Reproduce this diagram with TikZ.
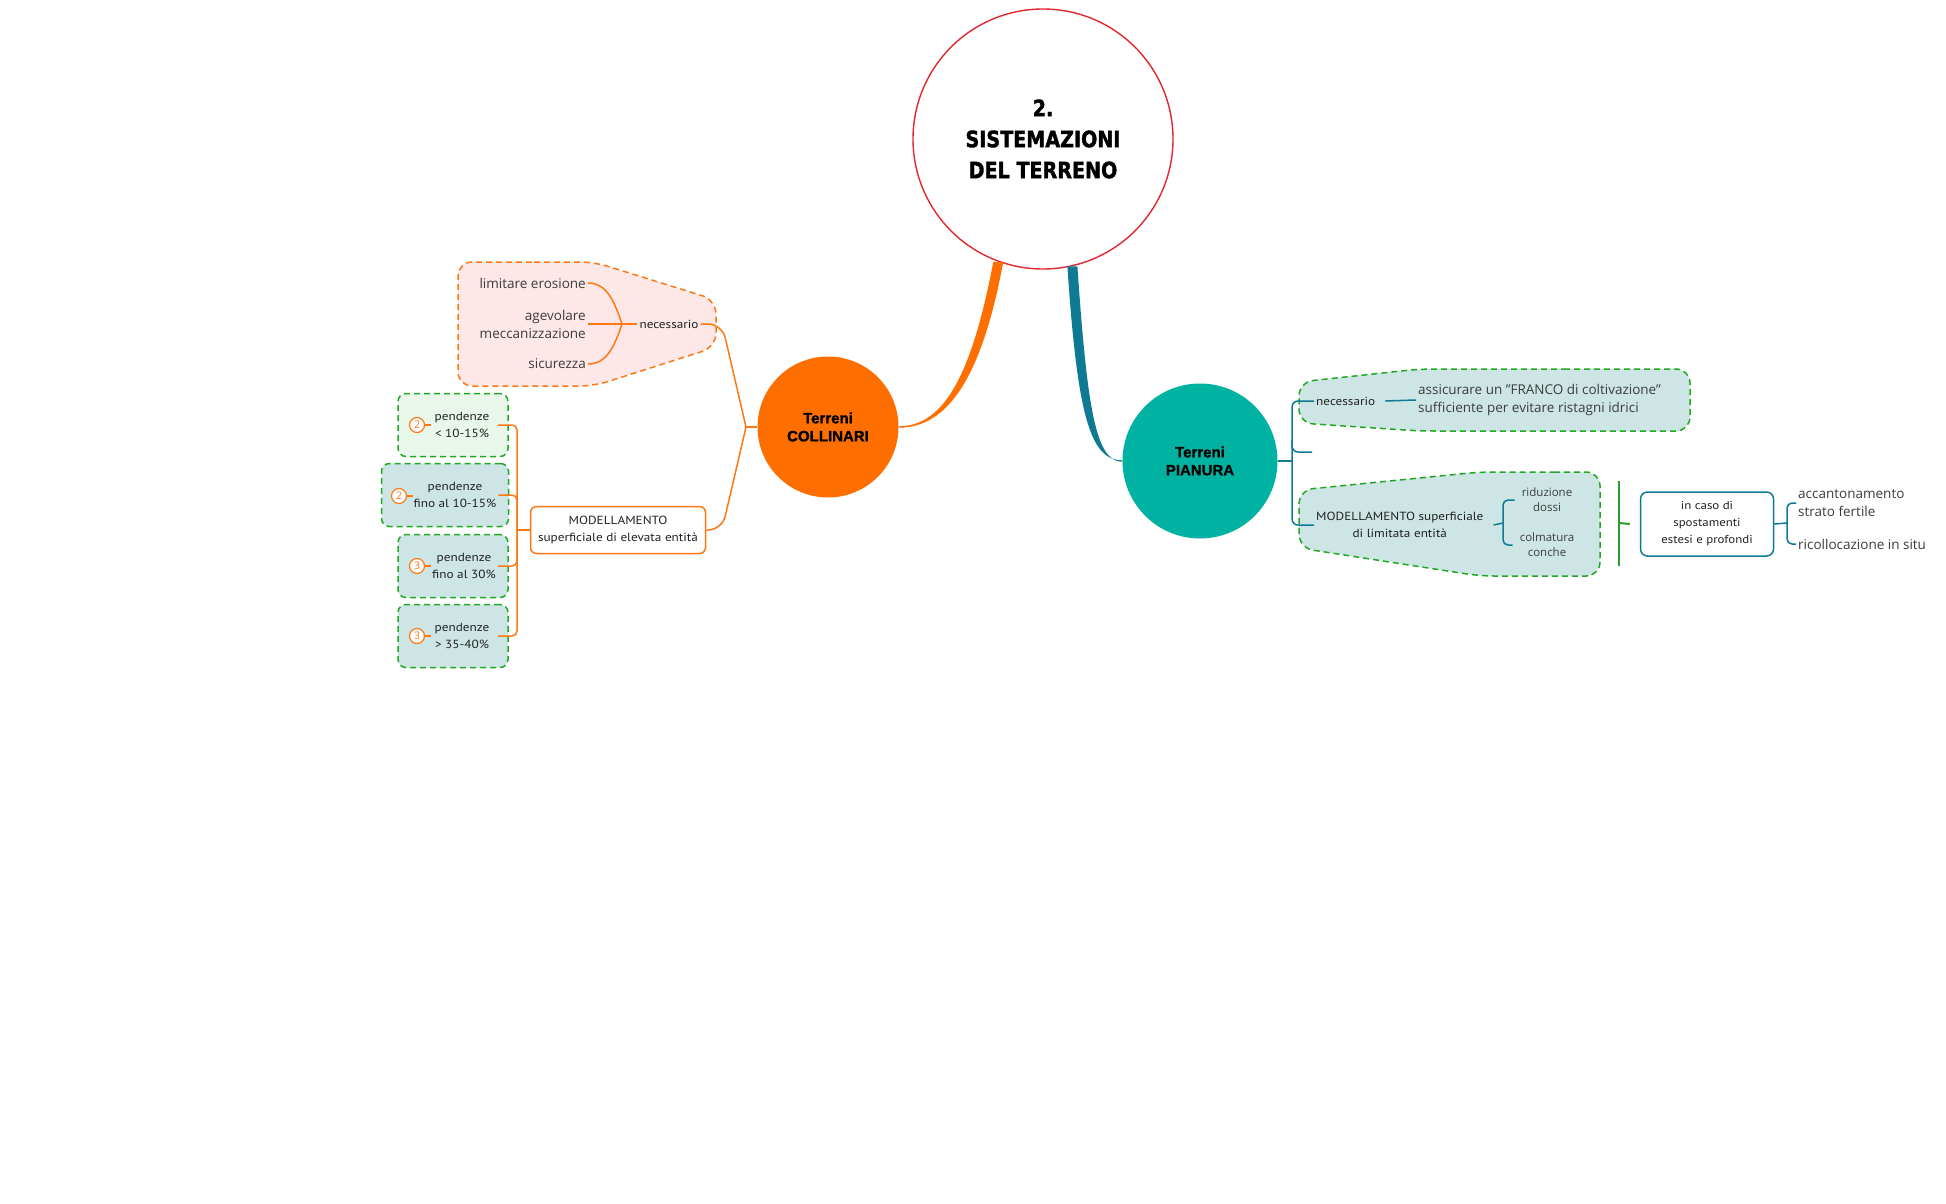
\documentclass[tikz,border=0pt]{standalone}
\usepackage{fontspec}
\setmainfont{Open Sans}
\newfontfamily\handfont{PT Sans}[FakeStretch=1.12]
\newfontfamily\titlefont{DejaVu Sans}[FakeStretch=0.85,FakeBold=1.6]
\newfontfamily\topicfont{Liberation Sans}[FakeBold=1.2]
\usepackage{xcolor}
\usetikzlibrary{positioning}

\definecolor{titlered}{HTML}{E2272E}
\definecolor{collorange}{HTML}{FF6F00}
\definecolor{lineorange}{HTML}{FF7814}
\definecolor{piantea}{HTML}{00B2A2}
\definecolor{lineteal}{HTML}{0E7A94}
\definecolor{dashgreen}{HTML}{22A822}
\definecolor{rulegreen}{HTML}{2E9B2E}
\definecolor{pinkfill}{HTML}{FDE7E7}
\definecolor{mintfill}{HTML}{E9F6EA}
\definecolor{tealfill}{HTML}{CDE6E5}
\definecolor{textgray}{HTML}{3C3C3C}
\definecolor{handink}{HTML}{222222}

\begin{document}
\begin{tikzpicture}[x=1pt,y=-1pt,
  main node/.style={circle,draw=titlered,line width=1.4pt,fill=white,minimum size=260pt,inner sep=0pt,align=center,font=\titlefont\bfseries\fontsize{22.5}{31}\selectfont},
  topic node/.style={circle,inner sep=0pt,align=center,font=\topicfont\bfseries\fontsize{15}{18}\selectfont},
  hand node/.style={align=center,inner sep=2pt,text=handink,font=\handfont\fontsize{11.8}{17}\selectfont},
  plain node/.style={inner sep=2pt,text=textgray,font=\fontsize{13.5}{18}\selectfont},
  small node/.style={plain node,align=center,font=\fontsize{11.5}{15}\selectfont},
  slope box/.style={draw=dashgreen,line width=1.5pt,dash pattern=on 6pt off 4pt,rounded corners=8pt,minimum height=63pt},
  num node/.style={circle,draw=lineorange,fill=white,text=lineorange,line width=1.2pt,inner sep=0pt,minimum size=15pt,font=\fontsize{10.5}{10.5}\selectfont},
  orange line/.style={draw=lineorange,line width=1.5pt},
  teal line/.style={draw=lineteal,line width=1.5pt},
  green line/.style={draw=rulegreen,line width=2pt},
  dashed area/.style={line width=1.5pt,dash pattern=on 6pt off 4pt,rounded corners=14pt}]

  \useasboundingbox[fill=white] (0,0) rectangle (1946,1204);

  % dashed areas
  \path[dashed area,draw=lineorange,fill=pinkfill] (520,262) -- (594,262) -- (716,300) -- (716,347) -- (594,386) -- (458,386) -- (458,262) -- cycle;
  \path[dashed area,draw=dashgreen,fill=tealfill] (1550,369) -- (1690,369) -- (1690,431) -- (1420,431) -- (1299,423) -- (1299,382) -- (1420,369) -- cycle;
  \path[dashed area,draw=dashgreen,fill=tealfill] (1540,472) -- (1600,472) -- (1600,576) -- (1480,576) -- (1299,548) -- (1299,490) -- (1480,472) -- cycle;

  % main topics
  \node[main node] (main) at (1043,139) {2.\\SISTEMAZIONI\\DEL TERRENO};
  \node[topic node,fill=collorange,minimum size=141pt] (coll) at (828,427) {Terreni\\COLLINARI};
  \node[topic node,fill=piantea,minimum size=155pt] (pian) at (1200,461) {Terreni\\PIANURA};

  \fill[collorange] ([xshift=-5pt]main.250) .. controls +(-22,116) and +(44,0) .. ([yshift=0.7pt]coll.east)
    -- ([yshift=-0.7pt]coll.east) .. controls +(48,0) and +(-22,118) .. ([xshift=5pt]main.250) -- cycle;
  \fill[lineteal] ([xshift=-5pt]main.283) .. controls +(10,150) and +(-32,0) .. ([yshift=0.7pt]pian.west)
    -- ([yshift=-0.7pt]pian.west) .. controls +(-26,0) and +(10,146) .. ([xshift=5pt]main.283) -- cycle;

  % Terreni collinari
  \node[plain node,anchor=east] (eros) at (588,283) {limitare erosione};
  \node[plain node,anchor=east,align=right] (agev) at (588,324) {agevolare\\meccanizzazione};
  \node[plain node,anchor=east] (sicu) at (588,364) {sicurezza};
  \node[hand node] (necC) at (669,324) {necessario};
  \coordinate (jN) at (622,324);
  \coordinate (jC) at (746,427);

  \node[hand node,draw=lineorange,line width=1.5pt,rounded corners=6pt,fill=white,minimum width=175pt,minimum height=47pt] (modC) at (618,530) {MODELLAMENTO\\superficiale di elevata entità};

  \node[slope box,fill=mintfill,minimum width=110pt] (sl1) at (453,425) {};
  \node[slope box,fill=tealfill,minimum width=127pt] (sl2) at (445,495) {};
  \node[slope box,fill=tealfill,minimum width=110pt] (sl3) at (453,566) {};
  \node[slope box,fill=tealfill,minimum width=110pt] (sl4) at (453,636) {};
  \node[hand node] (pe1) at (462,425) {pendenze\\< 10-15\%};
  \node[hand node] (pe2) at (455,495) {pendenze\\fino al 10-15\%};
  \node[hand node] (pe3) at (464,566) {pendenze\\fino al 30\%};
  \node[hand node] (pe4) at (462,636) {pendenze\\> 35-40\%};
  \node[num node] (n1) at (417,425) {2};
  \node[num node] (n2) at (399,496) {2};
  \node[num node] (n3) at (417,566) {3};
  \node[num node] (n4) at (417,636) {3};
  \coordinate (jS) at (517,530);

  \foreach \n in {n1,n2,n3,n4}
    \draw[orange line] (\n.east) -- ++(6,0);
  \foreach \s in {sl1,sl2,sl3,sl4}
    \draw[orange line,rounded corners=5pt] ([xshift=-11pt]\s.east) -| (jS);
  \draw[orange line] (jS) -- (modC.west);

  \draw[orange line] (coll.west) -- (jC);
  \draw[orange line,rounded corners=14pt] (jC) -- (722,324) -- (necC.east);
  \draw[orange line,rounded corners=14pt] (jC) -- (722,530) -- (modC.east);
  \draw[orange line] (eros.east) .. controls +(20,0) and +(-7,-20) .. (jN);
  \draw[orange line] (agev.east) -- (jN) -- (necC.west);
  \draw[orange line] (sicu.east) .. controls +(20,0) and +(-7,20) .. (jN);

  % Terreni pianura
  \node[hand node,anchor=west] (necP) at (1314,401) {necessario};
  \node[plain node,anchor=west,align=left] (franco) at (1416,400) {assicurare un "FRANCO di coltivazione"\\sufficiente per evitare ristagni idrici};
  \node[hand node,anchor=west] (modP) at (1314,525) {MODELLAMENTO superficiale\\di limitata entità};
  \coordinate (stub) at (1312,452);

  \draw[teal line] (pian.east) -- (1292,461);
  \draw[teal line,rounded corners=6pt] (necP.west) -| (1292,452) |- (modP.west);
  \draw[teal line,rounded corners=6pt] (1292,440) |- (stub);
  \draw[teal line] ([xshift=8pt]necP.east) -- (franco.west);

  \coordinate (jM) at (1503,523);
  \node[small node] (ridu) at (1547,500) {riduzione\\dossi};
  \node[small node] (colm) at (1547,545) {colmatura\\conche};
  \draw[teal line] ([xshift=8pt]modP.east) -- (jM);
  \draw[teal line,rounded corners=5pt] ([xshift=-5pt]ridu.west) -| (jM) |- ([xshift=-5pt]colm.west);

  \node[hand node,draw=lineteal,line width=1.5pt,rounded corners=7pt,fill=white,minimum width=133pt,minimum height=64pt,font=\handfont\fontsize{11.5}{17}\selectfont] (caso) at (1707,524) {in caso di\\spostamenti\\estesi e profondi};
  \coordinate (gTop) at (1619,481);
  \coordinate (gBot) at (1619,566);
  \draw[green line] (gTop) -- (gBot);
  \draw[green line] (1619,523) -- ([xshift=-10pt]caso.west);

  \coordinate (jK) at (1787,523);
  \node[plain node,anchor=west,align=left] (accan) at (1796,503) {accantonamento\\strato fertile};
  \node[plain node,anchor=west] (ricol) at (1796,544) {ricollocazione in situ};
  \draw[teal line] (caso.east) -- (jK);
  \draw[teal line,rounded corners=5pt] (accan.west) -| (jK) |- (ricol.west);

\end{tikzpicture}
\end{document}
